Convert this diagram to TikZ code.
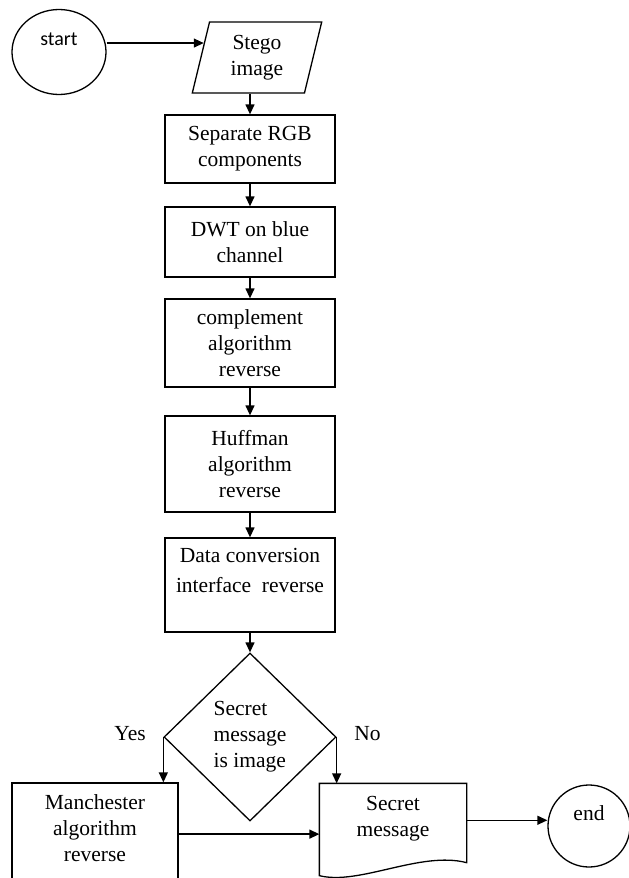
\documentclass[tikz,border=0pt]{standalone}
\usepackage{fontspec}
\setmainfont{Liberation Serif}
\newfontfamily\startfont{Carlito}
\usetikzlibrary{arrows.meta, positioning, calc, shapes.geometric}

\begin{document}
\begin{tikzpicture}[
		x=1pt, y=-1pt,
		font=\fontsize{21.5}{26}\selectfont,
		>={Triangle[length=10pt,width=9pt]},
		line width=1.3pt,
		proc/.style={draw, align=center, inner sep=2pt,
			minimum width=170pt},
		term/.style={draw, align=center, inner sep=0pt},
		inout/.style={draw, trapezium, trapezium left angle=78,
			trapezium right angle=102, trapezium stretches=true,
			align=center, inner sep=0pt,
			minimum width=130pt, minimum height=71pt},
		decide/.style={draw, diamond, align=left, inner sep=0pt,
			minimum width=172pt, minimum height=168pt},
		lbl/.style={inner sep=0pt},
		conn/.style={->}
		]
		\useasboundingbox (0,0) rectangle (629,878);
		\clip (0,0) rectangle (629,878);
		
		%--- start and input ------------------------------------------------------
		\node[term, ellipse, minimum width=94pt, minimum height=85pt,
		font={\fontsize{20}{26}\startfont}] (start) at (59,52)
		{start\\ \mbox{}};
		\node[inout] (stego) at (257,57.5) {Stego\\image};
		
		%--- processing chain ------------------------------------------------------
		\node[proc, minimum height=68pt] (sep) at (250,149)
		{Separate RGB\\components};
		\node[proc, minimum height=70pt] (dwt) at (250,242)
		{DWT on blue\\channel};
		\node[proc, minimum height=88pt] (comp) at (250,343)
		{complement\\algorithm\\reverse};
		\node[proc, minimum height=96pt] (huff) at (250,464)
		{Huffman\\algorithm\\reverse};
		\node[proc, minimum height=94pt,
		font=\fontsize{21.5}{30}\selectfont] (data) at (250,585)
		{Data conversion\\interface\ \ reverse\\ \mbox{}};
		
		%--- decision --------------------------------------------------------------
		\node[decide] (dia) at (250,737)
		{Secret\\message\\is image};
		\node[lbl, left=17pt of dia.west, yshift=3pt] (yes) {Yes};
		\node[lbl, right=17pt of dia.east, yshift=3pt] (no) {No};
		
		%--- outputs ---------------------------------------------------------------
		\node[proc, minimum width=166pt, minimum height=117pt] (manch)
		at (95,841.5) {Manchester\\algorithm\\reverse\\ \mbox{}};
		\node[align=center, inner sep=0pt, minimum width=146pt,
		minimum height=91pt] (msg) at (393,829.5)
		{Secret\\message\\ \mbox{}};
		\draw (msg.south west) -- (msg.north west) -- (msg.north east)
		-- ($(msg.south east)+(0,-13)$)
		.. controls ($(msg.south east)+(-46,-25)$)
		and ($(msg.south west)+(40,10)$) .. (msg.south west) -- cycle;
		\node[term, circle, minimum size=82pt] (endc) at (589,826)
		{end\\ \mbox{}};
		
		%--- connectors ------------------------------------------------------------
		\coordinate (sin) at ($(stego.top left corner)!0.3!(stego.bottom left corner)$);
		\coordinate (mjoin) at ($(msg.north west)!0.55!(msg.south west)$);
		\coordinate (mout) at ($(msg.north east)!0.4!(msg.south east)$);
		
		\draw[conn] (start.east |- sin) -- (sin);
		\draw[conn] (sep.north |- stego.south) -- (sep.north);
		\foreach \a/\b in {sep/dwt, dwt/comp, comp/huff, huff/data}
		\draw[conn] (\a.south) -- (\b.north);
		\draw[conn] (data.south) -- (dia.north);
		
		\draw[conn] (dia.west) -- (dia.west |- manch.north);
		\draw[conn] (dia.east) -- (dia.east |- msg.north);
		\draw[conn] (manch.east |- mjoin) -- (mjoin);
		\draw[conn] (mout) -- (mout -| endc.west);
	\end{tikzpicture}
\end{document}
